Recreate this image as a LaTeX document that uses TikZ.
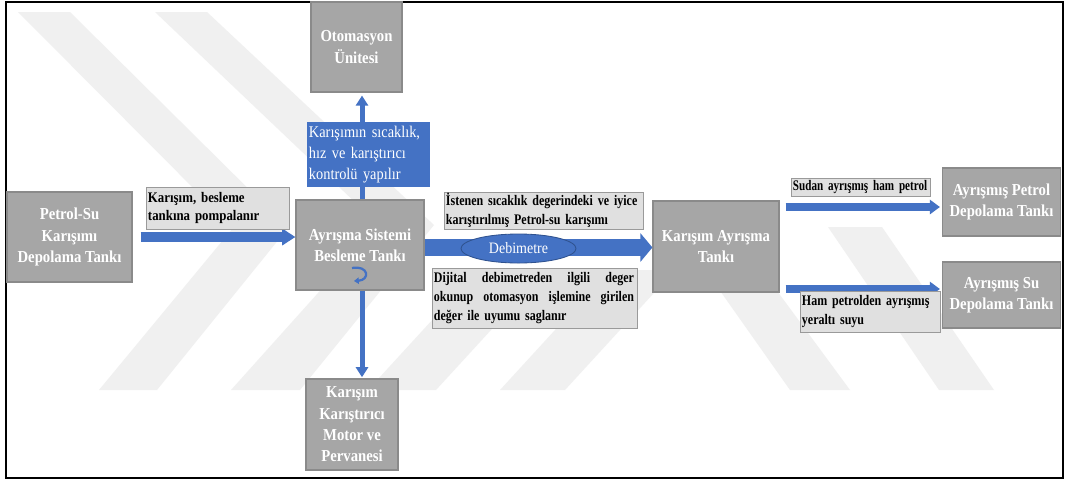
\documentclass[tikz,border=0pt]{standalone}
\usepackage{fontspec}
\newfontfamily\tnr{Liberation Serif}[FakeStretch=0.88]
\newfontfamily\tnrc{Liberation Serif}[FakeStretch=0.82]
\newfontfamily\tnrx{Liberation Serif}[FakeStretch=0.76]
\usetikzlibrary{arrows.meta,shapes.geometric}
\definecolor{boxgray}{HTML}{A6A6A6}
\definecolor{boxedge}{HTML}{8A8A8A}
\definecolor{lblfill}{HTML}{E0E0E0}
\definecolor{lbledge}{HTML}{9A9A9A}
\definecolor{arrblue}{HTML}{4472C4}
\definecolor{darkblue}{HTML}{2F528F}
\definecolor{wm}{HTML}{F0F0F0}
\begin{document}
\begin{tikzpicture}[x=0.025cm,y=-0.025cm,
  tank/.style={rectangle,draw=boxedge,line width=0.8pt,fill=boxgray,text=white,align=center,inner sep=0pt,
    font=\tnr\bfseries\fontsize{11.9}{15.2}\selectfont},
  lbl/.style={rectangle,draw=lbledge,line width=0.6pt,fill=lblfill,text=black,align=left,inner xsep=0.05cm,inner ysep=0pt,
    font=\tnrc\bfseries\fontsize{10.4}{13.3}\selectfont},
  bluebox/.style={rectangle,fill=arrblue,text=white,align=left,inner xsep=0.05cm,inner ysep=0pt,
    font=\tnr\fontsize{11.6}{14.9}\selectfont},
  flow/.style={draw=arrblue,line width=#1},
  flow/.default=0.25cm]
\useasboundingbox (0,0) rectangle (1067,481);
\fill[white] (0,0) rectangle (1067,481);
% watermark (faint stripes)
\fill[wm] (18,12) -- (70,12) -- (288,228) -- (157,390) -- (99,390) -- (233,228) -- cycle;
\fill[wm] (155,12) -- (207,12) -- (434,225) -- (300,390) -- (231,390) -- (379,225) -- cycle;
\fill[wm] (478,270) -- (546,270) -- (436,390) -- (368,390) -- cycle;
\fill[wm] (610,270) -- (675,270) -- (565,390) -- (500,390) -- cycle;
\fill[wm] (675,227) -- (730,227) -- (850,390) -- (790,390) -- cycle;
\fill[wm] (828,227) -- (882,227) -- (994,390) -- (939,390) -- cycle;
% frame
\draw[black,line width=1.4pt] (6,2) rectangle (1063,478);

% nodes
\node[tank,minimum width=3.125cm,minimum height=2.25cm] (ps) at (69.5,237) {Petrol-Su\\Karışımı\\Depolama Tankı};
\node[tank,minimum width=2.275cm,minimum height=2.25cm] (oto) at (356.5,47) {Otomasyon\\Ünitesi};
\node[tank,minimum width=3.2cm,minimum height=2.25cm] (ayr) at (360,245) {Ayrışma Sistemi\\Besleme Tankı};
\node[tank,minimum width=2.3cm,minimum height=2.275cm] (kk) at (352,424.5) {Karışım\\Karıştırıcı\\Motor ve\\Pervanesi};
\node[tank,minimum width=3.15cm,minimum height=2.275cm] (kat) at (716,246.5) {Karışım Ayrışma\\Tankı};
\node[tank,minimum width=2.95cm,minimum height=1.7cm] (apt) at (1001.5,202) {Ayrışmış Petrol\\Depolama Tankı};
\node[tank,minimum width=2.95cm,minimum height=1.65cm] (ast) at (1001.5,295) {Ayrışmış Su\\Depolama Tankı};

% connectors
\draw[flow=0.25cm,-{Triangle[width=0.4cm,length=0.33cm]},shorten <=0.2cm]
  (ps.east |- 0,237) coordinate (a1s) -- (ayr.west |- a1s);
\draw[flow=0.125cm,-{Triangle[width=0.3cm,length=0.25cm]},shorten >=0.075cm]
  (ayr.north -| 362,0) coordinate (ups) -- (oto.south -| ups);
\draw[flow=0.125cm,-{Triangle[width=0.3cm,length=0.25cm]},shorten >=0.03cm]
  (ayr.south -| 362,0) coordinate (dns) -- (kk.north -| dns);
\draw[flow=0.425cm,-{Triangle[width=0.7cm,length=0.3cm]}]
  (ayr.east |- 0,247.5) coordinate (ms) -- (kat.west |- ms);
\draw[flow=0.2cm,-{Triangle[width=0.35cm,length=0.25cm]},shorten <=0.15cm,shorten >=0.05cm]
  (kat.east |- 0,207) coordinate (us) -- (apt.west |- us);
\draw[flow=0.2cm,-{Triangle[width=0.35cm,length=0.25cm]},shorten <=0.15cm,shorten >=0.05cm]
  (kat.east |- 0,289) coordinate (ls) -- (ast.west |- ls);

% curl symbol in feed tank
\draw[arrblue,line width=1.6pt,-{Triangle[width=0.16cm,length=0.12cm]}]
  (352,268) .. controls (369,265) and (370,280) .. (354,281);

% labels
\node[bluebox,text width=2.975cm,minimum height=1.625cm] (ctl) at (368.5,154.5) {Karışımın sıcaklık,\\hız ve karıştırıcı\\kontrolü yapılır};
\node[lbl,font=\tnr\bfseries\fontsize{10.4}{13.3}\selectfont,text width=3.475cm,minimum height=1.05cm] (l1) at (217.5,208) {Karışım, besleme\\tankına pompalanır};
\node[lbl,text width=4.875cm,minimum height=0.925cm] (l2) at (543.5,210.5) {İstenen sıcaklık degerindeki ve iyice\\karıştırılmış Petrol-su karışımı};
\node[lbl,text width=5.025cm,minimum height=1.5cm] (l3) at (534.5,298) {\makebox[5cm][l]{Dijital\hfill debimetreden\hfill ilgili\hfill deger}\\\makebox[5cm][l]{okunup\hfill otomasyon\hfill işlemine\hfill girilen}\\değer ile uyumu saglanır};
\node[lbl,font=\tnrx\bfseries\fontsize{10.4}{13.3}\selectfont,text width=3.375cm,minimum height=0.45cm] (l4) at (860.5,187) {Sudan ayrışmış ham petrol};
\node[lbl,text width=3.4cm,minimum height=1.025cm] (l5) at (870,311.5) {Ham petrolden ayrışmış\\yeraltı suyu};
\node[ellipse,draw=darkblue,line width=0.6pt,fill=arrblue,text=white,inner sep=0pt,
  minimum width=2.875cm,minimum height=0.725cm,font=\tnr\fontsize{11.3}{13}\selectfont] (deb) at (518.5,248.5) {Debimetre};
\end{tikzpicture}
\end{document}
